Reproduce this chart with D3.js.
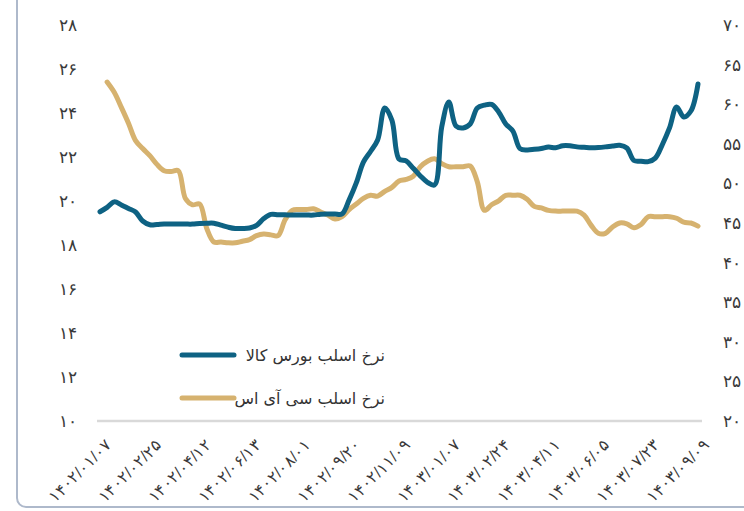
<!DOCTYPE html>
<html>
<head>
<meta charset="utf-8">
<script src="https://cdn.jsdelivr.net/npm/d3@7"></script>
<style>
  body { margin: 0; background: #fff; }
  svg { display: block; font-family: "DejaVu Sans", sans-serif; }
</style>
</head>
<body>
<svg class="chart" width="744" height="511"></svg>
<script>
"use strict";

// x axis labels, one every 7 points
let xLabels = [
  "۱۴۰۲/۰۱/۰۷", "۱۴۰۲/۰۲/۲۵", "۱۴۰۲/۰۴/۱۲", "۱۴۰۲/۰۶/۱۳", "۱۴۰۲/۰۸/۰۱",
  "۱۴۰۲/۰۹/۲۰", "۱۴۰۲/۱۱/۰۹", "۱۴۰۳/۰۱/۰۷", "۱۴۰۳/۰۲/۲۴", "۱۴۰۳/۰۴/۱۱",
  "۱۴۰۳/۰۶/۰۵", "۱۴۰۳/۰۷/۲۳", "۱۴۰۳/۰۹/۰۹"
];
let labelStep = 7;

let seriesNames = ["نرخ اسلب بورس کالا", "نرخ اسلب سی آی اس"];

// left axis
let bourse = [
  19.51, 19.71, 19.96, 19.82, 19.66, 19.5, 19.09, 18.92, 18.93, 18.95,
  18.95, 18.95, 18.95, 18.95, 18.98, 18.99, 18.99, 18.9, 18.81, 18.75,
  18.75, 18.77, 18.89, 19.2, 19.39, 19.38, 19.37, 19.36, 19.36, 19.36,
  19.36, 19.4, 19.41, 19.41, 19.41, 20.05, 20.82, 21.77, 22.25, 22.77,
  24.23, 23.68, 21.91, 21.82, 21.49, 21.14, 20.85, 20.73, 23.36, 24.5,
  23.41, 23.32, 23.5, 24.23, 24.36, 24.39, 24.05, 23.5, 23.18, 22.38,
  22.32, 22.35, 22.39, 22.45, 22.42, 22.51, 22.51, 22.46, 22.44, 22.42,
  22.43, 22.46, 22.5, 22.53, 22.41, 21.84, 21.81, 21.79, 21.95, 22.57,
  23.32, 24.27, 23.82, 24.09, 25.32
];

// right axis
let cis = [
  null, 628, 615, 596, 576, 554, 544, 535, 524, 516,
  515, 516, 481, 473, 474, 443, 426, 426, 425, 425,
  427, 429, 434, 436, 435, 434, 454, 466, 467, 467,
  468, 464, 460, 455, 458, 467, 474, 481, 485, 484,
  490, 495, 503, 505, 509, 521, 528, 531, 525, 521,
  521, 521, 522, 502, 466, 473, 478, 485, 485, 485,
  480, 471, 469, 466, 465, 465, 465, 465, 460, 447,
  437, 437, 445, 450, 449, 444, 448, 458, 458, 458,
  458, 456, 451, 450, 446
];

let leftTicks = [10, 12, 14, 16, 18, 20, 22, 24, 26, 28];
let rightTicks = [200, 250, 300, 350, 400, 450, 500, 550, 600, 650, 700];

let blue = "#0e6283";
let gold = "#d6b26f";

let fa = s => String(s).replace(/\d/g, c => "۰۱۲۳۴۵۶۷۸۹"[+c]);

let svg = d3.select('.chart');

// frame
svg.append('rect')
  .attr('x', 17)
  .attr('y', -20)
  .attr('width', 800)
  .attr('height', 527)
  .attr('rx', 9)
  .attr('fill', 'none')
  .attr('stroke', '#aeb9cb')
  .attr('stroke-width', 2);

let x = d3.scaleLinear()
  .domain([0, bourse.length - 1])
  .range([100, 698]);

let yL = d3.scaleLinear().domain([10, 28]).range([421, 25]);
let yR = d3.scaleLinear().domain([200, 700]).range([421, 25]);

// baseline
svg.append('line')
  .attr('x1', 97).attr('x2', 702)
  .attr('y1', yL(10)).attr('y2', yL(10))
  .attr('stroke', '#d9d9d9')
  .attr('stroke-width', 2.5);

let styleAxis = (g, size) => {
  g.select('.domain').remove();
  g.selectAll('text')
    .attr('fill', '#3a3a3a')
    .attr('font-size', size);
};

svg.append('g')
  .attr('transform', 'translate(85,0)')
  .call(d3.axisLeft(yL).tickValues(leftTicks).tickSize(0).tickPadding(8).tickFormat(fa))
  .call(styleAxis, 17);

svg.append('g')
  .attr('transform', 'translate(715,0)')
  .call(d3.axisRight(yR).tickValues(rightTicks).tickSize(0).tickPadding(8).tickFormat(fa))
  .call(styleAxis, 17);

let tickIdx = xLabels.map((d, i) => i * labelStep);

svg.append('g')
  .attr('transform', 'translate(0,' + yL(10) + ')')
  .call(d3.axisBottom(x).tickValues(tickIdx).tickSize(0).tickFormat((d, i) => xLabels[i]))
  .call(styleAxis, 16)
  .selectAll('text')
  .attr('text-anchor', 'end')
  .attr('x', 0)
  .attr('y', 0)
  .attr('dy', '0.35em')
  .attr('transform', 'translate(8,21) rotate(-45)');

let lineL = d3.line()
  .defined(d => d != null)
  .x((d, i) => x(i))
  .y(d => yL(d))
  .curve(d3.curveCatmullRom.alpha(0.5));

let lineR = d3.line()
  .defined(d => d != null)
  .x((d, i) => x(i))
  .y(d => yR(d))
  .curve(d3.curveCatmullRom.alpha(0.5));

svg.append('path')
  .datum(cis)
  .attr('d', lineR)
  .attr('fill', 'none')
  .attr('stroke', gold)
  .attr('stroke-width', 5)
  .attr('stroke-linecap', 'round')
  .attr('stroke-linejoin', 'round');

svg.append('path')
  .datum(bourse)
  .attr('d', lineL)
  .attr('fill', 'none')
  .attr('stroke', blue)
  .attr('stroke-width', 5)
  .attr('stroke-linecap', 'round')
  .attr('stroke-linejoin', 'round');

// legend
let legend = svg.selectAll('.legend')
  .data([[seriesNames[0], blue], [seriesNames[1], gold]])
  .enter()
  .append('g')
  .attr('class', 'legend')
  .attr('transform', (d, i) => 'translate(0,' + (355 + i * 43) + ')');

legend.append('line')
  .attr('x1', 182).attr('x2', 234)
  .attr('stroke', d => d[1])
  .attr('stroke-width', 5)
  .attr('stroke-linecap', 'round');

legend.append('text')
  .attr('x', 385)
  .attr('dy', '0.35em')
  .attr('text-anchor', 'end')
  .attr('font-size', 16)
  .attr('fill', '#333')
  .text(d => d[0]);
</script>
</body>
</html>
